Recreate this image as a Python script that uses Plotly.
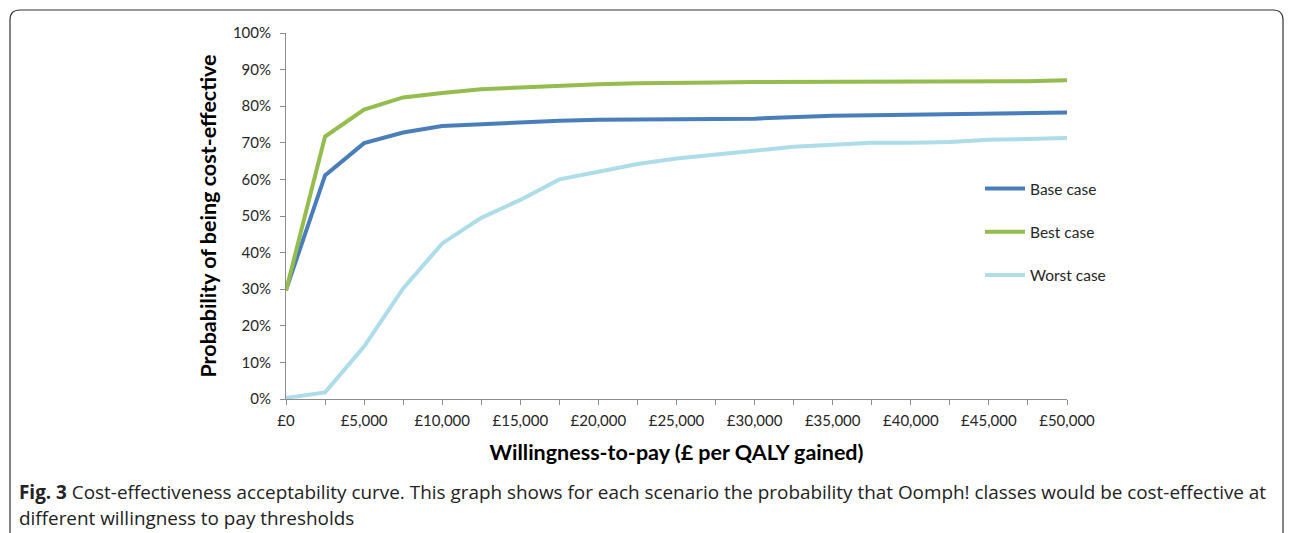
import plotly.graph_objects as go

wtp = [0, 2500, 5000, 7500, 10000, 12500, 15000, 17500, 20000, 22500, 25000,
       27500, 30000, 32500, 35000, 37500, 40000, 42500, 45000, 47500, 50000]
base_case = [0.298, 0.611, 0.699, 0.728, 0.746, 0.751, 0.757, 0.760, 0.763, 0.763, 0.763,
             0.765, 0.766, 0.771, 0.774, 0.775, 0.777, 0.778, 0.780, 0.782, 0.783]
best_case = [0.296, 0.717, 0.791, 0.824, 0.836, 0.846, 0.851, 0.856, 0.860, 0.863, 0.863,
             0.865, 0.866, 0.866, 0.866, 0.866, 0.868, 0.868, 0.868, 0.868, 0.871]
worst_case = [0.003, 0.018, 0.143, 0.302, 0.425, 0.495, 0.544, 0.600, 0.621, 0.642, 0.657,
              0.668, 0.678, 0.689, 0.695, 0.700, 0.700, 0.702, 0.708, 0.711, 0.713]

series_names = ["Base case", "Best case", "Worst case"]
series_colors = ["#4A7EBB", "#94BC4E", "#ADDDE9"]
x_tick_vals = wtp
x_tick_text = ["£0" if v == 0 else (f"£{v:,}" if v % 5000 == 0 else "") for v in wtp]
y_tick_vals = [i / 10 for i in range(11)]
y_tick_text = [f"{i * 10}%" for i in range(11)]

W, H = 1292, 533
L, R, T, B = 286, 1067, 33, 399

def px(xp):
    return (xp - L) / (R - L)

def py(yp):
    return (B - yp) / (B - T)

fig = go.Figure()
for name, vals, col in zip(series_names, [base_case, best_case, worst_case], series_colors):
    fig.add_trace(go.Scatter(x=wtp, y=vals, mode="lines", name=name, legendgroup=name,
                             line=dict(color=col, width=4)))

chart_font = "Lato, Calibri, sans-serif"
axis_col = "#8C8C8C"

fig.update_layout(
    width=W, height=H,
    margin=dict(l=L, r=W - R, t=T, b=H - B),
    paper_bgcolor="white", plot_bgcolor="white",
    font=dict(family=chart_font, size=15, color="#262626"),
    showlegend=True,
    legend=dict(x=px(980), y=py(172), xanchor="left", yanchor="top",
                font=dict(size=15.5, color="#262626"), tracegroupgap=20,
                bgcolor="rgba(0,0,0,0)", itemwidth=40),
    xaxis=dict(range=[0, 50000], tickmode="array", tickvals=x_tick_vals, ticktext=x_tick_text,
               showgrid=False, zeroline=False, showline=True, linecolor=axis_col, linewidth=1,
               ticks="outside", ticklen=5, tickcolor=axis_col, ticklabelstandoff=3,
               tickfont=dict(size=15, color="#262626"),
               title=dict(text="<b>Willingness-to-pay (£ per QALY gained)</b>",
                          font=dict(size=21.5, color="#000000"), standoff=16)),
    yaxis=dict(range=[0, 1], tickmode="array", tickvals=y_tick_vals, ticktext=y_tick_text,
               showgrid=False, zeroline=False, showline=True, linecolor=axis_col, linewidth=1,
               ticks="outside", ticklen=5, tickcolor=axis_col, ticklabelstandoff=6,
               tickfont=dict(size=15, color="#262626"),
               title=dict(text="<b>Probability of being cost-effective</b>",
                          font=dict(size=21.5, color="#000000"), standoff=10)),
)

# rounded border frame
x0, x1 = px(10), px(1283)
y0, y1 = py(560), py(10)
rx, ry = 10 / (R - L), 10 / (B - T)
path = (f"M {x0+rx},{y1} L {x1-rx},{y1} Q {x1},{y1} {x1},{y1-ry} "
        f"L {x1},{y0+ry} Q {x1},{y0} {x1-rx},{y0} L {x0+rx},{y0} "
        f"Q {x0},{y0} {x0},{y0+ry} L {x0},{y1-ry} Q {x0},{y1} {x0+rx},{y1} Z")
fig.add_shape(type="path", path=path, xref="paper", yref="paper",
              line=dict(color="#333333", width=1.2), fillcolor="rgba(0,0,0,0)", layer="below")

cap_font = dict(family="Open Sans, sans-serif", size=18.9, color="#222222")
fig.add_annotation(xref="paper", yref="paper", x=px(17), y=py(492), xanchor="left", yanchor="middle",
                   showarrow=False, align="left", font=cap_font,
                   text="<b>Fig. 3</b> Cost-effectiveness acceptability curve. This graph shows for each scenario the probability that Oomph! classes would be cost-effective at")
fig.add_annotation(xref="paper", yref="paper", x=px(17), y=py(518), xanchor="left", yanchor="middle",
                   showarrow=False, align="left", font=cap_font,
                   text="different willingness to pay thresholds")

fig.write_html("out.html", config={"displayModeBar": False},
               post_script="document.body.style.margin='0px';document.body.style.overflow='hidden';")
